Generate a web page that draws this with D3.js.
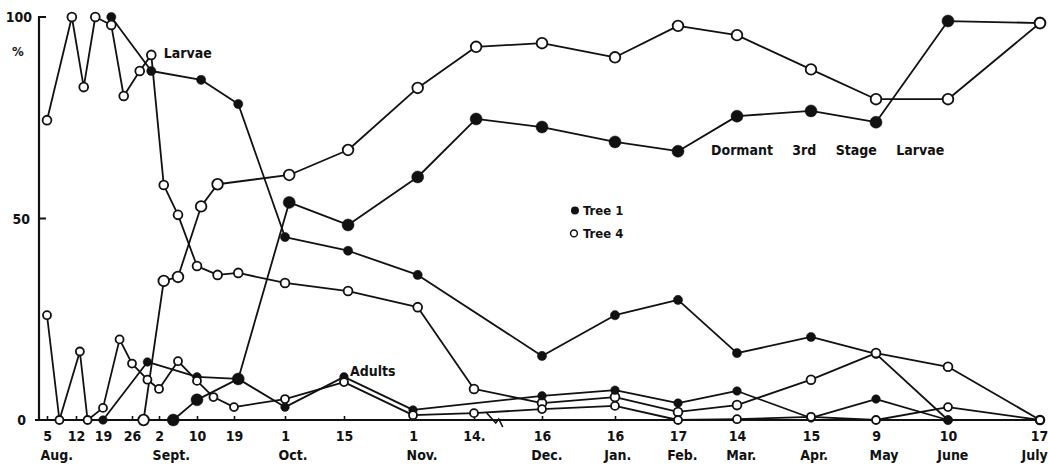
<!DOCTYPE html>
<html><head><meta charset="utf-8">
<script src="https://cdn.jsdelivr.net/npm/d3@7"></script>
<style>
body{margin:0;background:#fff}
svg{display:block}
text{font-family:"DejaVu Sans Condensed","DejaVu Sans",sans-serif;font-weight:bold;fill:#111}
</style>
</head><body>
<svg id="chart" width="1048" height="467"></svg>
<script>
// ---------- DATA ----------
const tickDates  = ["08-05","08-12","08-19","08-26","09-02","09-10","09-19","10-01","10-15","11-01","11-14","12-16","01-16","02-17","03-14","04-15","05-09","06-10","07-17"];
const tickLabels = ["5","12","19","26","2","10","19","1","15","1","14.","16","16","17","14","15","9","10","17"];
const monthLabels = ["Aug.","Sept.","Oct.","Nov.","Dec.","Jan.","Feb.","Mar.","Apr.","May","June","July"];
const monthTickIndex = [0,4,7,9,11,12,13,14,15,16,17,18];
const yTickValues = [0,50,100];
const yTickLabels = ["0","50","100"];

// [date (month-day), percent]
const larvaeTree1 = [["08-21",100],["08-31",86.6],["09-11",84.4],["09-20",78.4],["10-01",45.4],["10-16",42],["11-02",36],
  ["12-16",15.9],["01-16",26],["02-17",29.8],["03-14",16.6],["04-15",20.6],["05-09",16.4],["06-10",0]];
const larvaeTree4 = [["08-05",74.4],["08-11",100],["08-14",82.6],["08-17",100],["08-21",98],["08-24",80.4],["08-28",86.6],["08-31",90.6],
  ["09-03",58.3],["09-06",50.9],["09-10",38.2],["09-15",36],["09-20",36.5],["10-01",34],["10-16",32],["11-02",28],["11-14",7.7],
  ["12-16",4.2],["01-16",5.7],["02-17",2],["03-14",3.7],["04-15",10],["05-09",16.6],["06-10",13.2],["07-17",0]];
const dormantTree1 = [["09-05",0],["09-10",5],["09-20",10.2],["10-02",54],["10-16",48.4],["11-02",60.3],["11-15",74.7],
  ["12-16",72.7],["01-16",69],["02-17",66.7],["03-14",75.4],["04-15",76.7],["05-09",73.9],["06-10",99],["07-17",98.5]];
const dormantTree4 = [["08-29",0],["09-03",34.5],["09-06",35.5],["09-11",53],["09-15",58.5],["10-02",60.8],["10-16",67],["11-02",82.4],["11-15",92.6],
  ["12-16",93.5],["01-16",90],["02-17",97.8],["03-14",95.5],["04-15",87],["05-09",79.6],["06-10",79.6],["07-17",98.5]];
const adultsTree1 = [["08-19",0],["08-30",14.4],["09-10",10.7],["09-20",10.2],["10-01",3.2],["10-15",10.7],["11-01",2.5],
  ["12-16",6],["01-16",7.4],["02-17",4.2],["03-14",7.2],["04-15",0.5],["05-09",5.2],["06-10",0]];
const adultsTree4 = [["08-05",26],["08-08",0],["08-13",17],["08-15",0],["08-19",3],["08-23",20],["08-26",14],["08-30",10],["09-02",7.7],
  ["09-06",14.6],["09-10",9.7],["09-14",5.7],["09-19",3.2],["10-01",5.2],["10-15",9.4],["11-01",1.2],["11-14",1.7],
  ["12-16",2.7],["01-16",3.5],["02-17",0],["03-14",0.2],["04-15",0.8],["05-09",0],["06-10",3.2],["07-17",0]];

// ---------- LAYOUT ----------
const parse = s => { const [m,d] = s.split("-").map(Number); return new Date(m >= 8 ? 1961 : 1962, m-1, d); };
const svg = d3.select("#chart");
const axisX = 39, axisY = 420, topY = 17;
// The original, hand-drawn time axis is not uniform: piecewise-linear stops at each labelled date.
const axisStops = [47,76,103,132,159,197,234,285,344,413,474,542,615,678,737,811,876,948,1040];
const x = d3.scaleTime().domain(tickDates.map(parse)).range(axisStops);
const y = d3.scaleLinear().domain([0,100]).range([axisY, topY]);
const ink = "#111";

// axes
const gx = svg.append("g").attr("transform", `translate(0,${axisY})`)
  .call(d3.axisBottom(x).tickValues(tickDates.map(parse)).tickSizeInner(-4).tickSizeOuter(0).tickPadding(11)
        .tickFormat((d,i) => tickLabels[i]));
gx.select(".domain").remove();
gx.selectAll(".tick line").attr("stroke", ink).attr("stroke-width", 1.6);
gx.selectAll(".tick text").attr("font-size", 14).attr("font-family", null).attr("fill", ink);
gx.selectAll(".tick").filter((d,i) => i === tickDates.length - 1).select("text").attr("text-anchor", "end").attr("dx", "0.55em");
svg.append("line").attr("x1", axisX-4).attr("x2", x(parse("07-17"))).attr("y1", axisY).attr("y2", axisY)
  .attr("stroke", ink).attr("stroke-width", 2.2);

// month labels, left-aligned with the day number under which they sit
const tickTextNodes = gx.selectAll(".tick text").nodes();
monthLabels.forEach((m, k) => {
  const i = monthTickIndex[k];
  const bb = tickTextNodes[i].getBBox();
  const tx = x(parse(tickDates[i]));
  const last = k === monthLabels.length - 1;
  svg.append("text").attr("x", last ? tx + bb.x + bb.width : tx + bb.x - 2).attr("y", axisY + 40)
    .attr("text-anchor", last ? "end" : "start").attr("font-size", 14).text(m);
});

// y axis
svg.append("line").attr("x1", axisX).attr("x2", axisX).attr("y1", y(100)).attr("y2", axisY+1)
  .attr("stroke", ink).attr("stroke-width", 2.2);
svg.append("line").attr("x1", axisX-1).attr("x2", axisX+7).attr("y1", y(100)).attr("y2", y(100)).attr("stroke", ink).attr("stroke-width", 2);
svg.append("line").attr("x1", axisX).attr("x2", axisX+7).attr("y1", y(50)).attr("y2", y(50)).attr("stroke", ink).attr("stroke-width", 2);
yTickValues.forEach((v, i) => {
  svg.append("text").attr("x", axisX - 7 - (v === 0 ? 6 : v === 50 ? 2 : 0)).attr("y", y(v) + 5)
    .attr("text-anchor", "end").attr("font-size", 14).text(yTickLabels[i]);
});
svg.append("text").attr("x", 12).attr("y", y(90.3)).attr("font-size", 13).text("%");

// axis break mark
const bx = x(parse("11-20"));
svg.append("path").attr("d", `M${bx},${axisY-7} L${bx+9},${axisY+3} L${bx+12},${axisY-1} L${bx+16},${axisY+7}`)
  .attr("fill", "none").attr("stroke", ink).attr("stroke-width", 1.6);

// ---------- SERIES ----------
const series = [
  {data: larvaeTree1,  filled: true,  r: 4.6},
  {data: larvaeTree4,  filled: false, r: 4.4},
  {data: dormantTree1, filled: true,  r: 6},
  {data: dormantTree4, filled: false, r: 5.3},
  {data: adultsTree1,  filled: true,  r: 4.3},
  {data: adultsTree4,  filled: false, r: 4}
];
const line = d3.line().x(d => x(parse(d[0]))).y(d => y(d[1]));
series.forEach(s => {
  svg.append("path").attr("d", line(s.data)).attr("fill", "none").attr("stroke", ink)
    .attr("stroke-width", 1.8).attr("stroke-linejoin", "round");
});
series.forEach(s => {
  svg.append("g").selectAll("circle").data(s.data).join("circle")
    .attr("cx", d => x(parse(d[0]))).attr("cy", d => y(d[1])).attr("r", s.r)
    .attr("fill", s.filled ? ink : "#fff").attr("stroke", ink).attr("stroke-width", s.filled ? 0.5 : 1.8);
});

// ---------- ANNOTATIONS ----------
svg.append("text").attr("x", x(parse("09-03"))).attr("y", y(89.8)).attr("font-size", 14).text("Larvae");
svg.append("text").attr("x", x(parse("10-16")) + 2).attr("y", y(10.9)).attr("font-size", 14).text("Adults");
svg.append("text").attr("x", x(parse("03-03"))).attr("y", y(65.8)).attr("font-size", 14)
  .style("word-spacing", "15px").text("Dormant 3rd Stage Larvae");

// legend
const lgx = x(parse("12-30"));
svg.append("circle").attr("cx", lgx).attr("cy", y(52)).attr("r", 4).attr("fill", ink);
svg.append("text").attr("x", lgx + 8).attr("y", y(52) + 5).attr("font-size", 13).text("Tree 1");
svg.append("circle").attr("cx", lgx - 1).attr("cy", y(46.3)).attr("r", 3.4).attr("fill", "#fff").attr("stroke", ink).attr("stroke-width", 1.5);
svg.append("text").attr("x", lgx + 8).attr("y", y(46.3) + 5).attr("font-size", 13).text("Tree 4");
</script>
</body></html>
